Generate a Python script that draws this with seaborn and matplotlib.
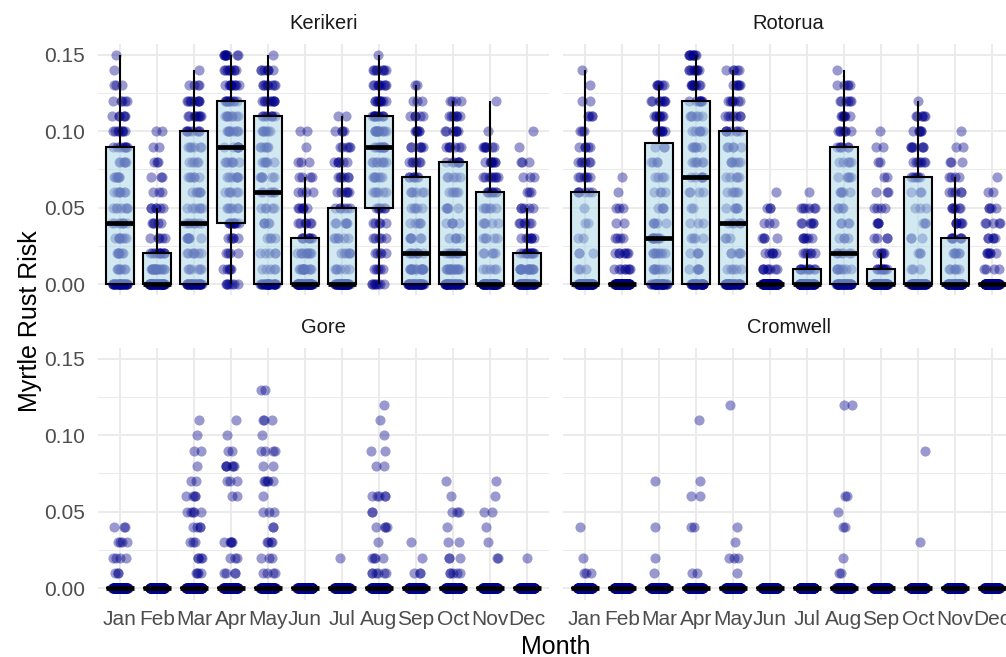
import numpy as np
import pandas as pd
import matplotlib
matplotlib.use("Agg")
import matplotlib.pyplot as plt
from matplotlib.colors import to_rgba
from matplotlib.ticker import MultipleLocator, FormatStrFormatter
import seaborn as sns

# ---------------------------------------------------------------------------
# Data: number of days observed at each risk level, per site and month
# ---------------------------------------------------------------------------
months = ["Jan", "Feb", "Mar", "Apr", "May", "Jun",
          "Jul", "Aug", "Sep", "Oct", "Nov", "Dec"]
sites = ["Kerikeri", "Rotorua", "Gore", "Cromwell"]
risk_levels = [0.00, 0.01, 0.02, 0.03, 0.04, 0.05, 0.06, 0.07,
               0.08, 0.09, 0.10, 0.11, 0.12, 0.13, 0.14, 0.15]

# columns follow risk_levels, rows follow months
kerikeri_counts = [
    [32, 7, 7, 8, 8, 7, 7, 7, 6, 8, 8, 6, 5, 3, 1, 1],
    [62, 18, 12, 5, 5, 6, 3, 3, 3, 2, 2, 0, 0, 0, 0, 0],
    [34, 6, 7, 7, 7, 6, 6, 6, 5, 6, 8, 9, 9, 4, 1, 0],
    [7, 5, 4, 5, 10, 6, 6, 7, 7, 8, 9, 9, 10, 10, 9, 9],
    [32, 5, 5, 4, 5, 5, 6, 6, 6, 6, 7, 8, 10, 8, 7, 1],
    [63, 14, 10, 8, 6, 6, 4, 4, 3, 1, 2, 0, 0, 0, 0, 0],
    [62, 6, 6, 6, 6, 6, 6, 6, 6, 5, 4, 2, 0, 0, 0, 0],
    [8, 5, 5, 5, 5, 6, 6, 7, 8, 12, 14, 12, 10, 9, 8, 1],
    [40, 16, 8, 6, 5, 5, 6, 7, 6, 6, 6, 5, 3, 2, 0, 0],
    [40, 16, 8, 5, 5, 5, 5, 5, 7, 7, 7, 7, 4, 0, 0, 0],
    [62, 5, 5, 5, 5, 6, 8, 8, 8, 7, 1, 0, 1, 0, 0, 0],
    [62, 18, 12, 7, 6, 5, 3, 3, 3, 1, 1, 0, 0, 0, 0, 0],
]

rotorua_counts = [
    [76, 3, 3, 2, 2, 1, 6, 6, 6, 5, 3, 4, 2, 1, 1, 0],
    [95, 8, 7, 4, 2, 3, 1, 1, 0, 0, 0, 0, 0, 0, 0, 0],
    [40, 8, 8, 10, 5, 4, 4, 4, 4, 3, 8, 8, 8, 6, 0, 0],
    [34, 5, 4, 4, 3, 2, 4, 6, 6, 6, 6, 6, 8, 9, 9, 9],
    [45, 5, 5, 3, 5, 5, 5, 5, 6, 5, 7, 7, 7, 6, 5, 0],
    [96, 8, 6, 4, 3, 3, 1, 0, 0, 0, 0, 0, 0, 0, 0, 0],
    [86, 10, 6, 6, 6, 6, 1, 0, 0, 0, 0, 0, 0, 0, 0, 0],
    [48, 8, 6, 4, 4, 4, 5, 5, 5, 6, 7, 7, 6, 5, 1, 0],
    [84, 10, 5, 4, 4, 4, 3, 2, 2, 2, 1, 0, 0, 0, 0, 0],
    [70, 3, 3, 3, 3, 3, 3, 6, 7, 7, 6, 6, 1, 0, 0, 0],
    [75, 6, 6, 7, 6, 6, 5, 4, 3, 2, 1, 0, 0, 0, 0, 0],
    [94, 4, 6, 5, 5, 4, 2, 1, 0, 0, 0, 0, 0, 0, 0, 0],
]

gore_counts = [
    [110, 3, 4, 4, 3, 0, 0, 0, 0, 0, 0, 0, 0, 0, 0, 0],
    [110, 0, 0, 0, 0, 0, 0, 0, 0, 0, 0, 0, 0, 0, 0, 0],
    [110, 4, 4, 3, 4, 5, 4, 2, 1, 2, 1, 1, 0, 0, 0, 0],
    [110, 4, 3, 5, 0, 0, 2, 3, 6, 2, 1, 1, 0, 0, 0, 0],
    [110, 4, 3, 4, 2, 3, 1, 5, 2, 4, 1, 3, 0, 2, 0, 0],
    [110, 0, 0, 0, 0, 0, 0, 0, 0, 0, 0, 0, 0, 0, 0, 0],
    [110, 0, 1, 0, 0, 0, 0, 0, 0, 0, 0, 0, 0, 0, 0, 0],
    [110, 6, 4, 1, 4, 2, 5, 0, 2, 2, 1, 1, 1, 0, 0, 0],
    [110, 3, 1, 1, 0, 0, 0, 0, 0, 0, 0, 0, 0, 0, 0, 0],
    [110, 5, 3, 2, 1, 3, 1, 1, 0, 0, 0, 0, 0, 0, 0, 0],
    [110, 0, 2, 1, 1, 2, 1, 1, 0, 0, 0, 0, 0, 0, 0, 0],
    [110, 0, 1, 0, 0, 0, 0, 0, 0, 0, 0, 0, 0, 0, 0, 0],
]

cromwell_counts = [
    [110, 3, 1, 0, 1, 0, 0, 0, 0, 0, 0, 0, 0, 0, 0, 0],
    [110, 0, 0, 0, 0, 0, 0, 0, 0, 0, 0, 0, 0, 0, 0, 0],
    [110, 1, 1, 0, 1, 0, 0, 1, 0, 0, 0, 0, 0, 0, 0, 0],
    [110, 2, 0, 0, 2, 0, 2, 1, 0, 0, 0, 1, 0, 0, 0, 0],
    [110, 1, 3, 1, 1, 0, 0, 0, 0, 0, 0, 0, 1, 0, 0, 0],
    [110, 0, 0, 0, 0, 0, 0, 0, 0, 0, 0, 0, 0, 0, 0, 0],
    [110, 0, 0, 0, 0, 0, 0, 0, 0, 0, 0, 0, 0, 0, 0, 0],
    [110, 2, 1, 0, 2, 1, 2, 0, 0, 0, 0, 0, 2, 0, 0, 0],
    [110, 0, 0, 0, 0, 0, 0, 0, 0, 0, 0, 0, 0, 0, 0, 0],
    [110, 0, 0, 1, 0, 0, 0, 0, 0, 1, 0, 0, 0, 0, 0, 0],
    [110, 0, 0, 0, 0, 0, 0, 0, 0, 0, 0, 0, 0, 0, 0, 0],
    [110, 0, 0, 0, 0, 0, 0, 0, 0, 0, 0, 0, 0, 0, 0, 0],
]

site_tables = dict(zip(sites, [kerikeri_counts, rotorua_counts,
                               gore_counts, cromwell_counts]))

records = []
for site, table in site_tables.items():
    for month, counts in zip(months, table):
        for level, n in zip(risk_levels, counts):
            records.extend([(site, month, level)] * n)
df = pd.DataFrame(records, columns=["site", "month", "risk"])

# ---------------------------------------------------------------------------
# Styling
# ---------------------------------------------------------------------------
sns.set_theme(style="white")
plt.rcParams["font.family"] = ["Liberation Sans", "DejaVu Sans"]

GRID = "#EBEBEB"
TICK_COLOR = "#4D4D4D"
STRIP_COLOR = "#1A1A1A"
BOX_FILL = to_rgba("lightblue", 0.55)

W, H = 1006, 657
fig = plt.figure(figsize=(W / 100, H / 100), dpi=100)
fig.patch.set_facecolor("white")

panel_w, panel_h = 451.4, 252.0
col_left = [97.8, 562.8]
row_top = [43.5, 347.5]

np.random.seed(7)

for i, site in enumerate(sites):
    r, c = divmod(i, 2)
    ax = fig.add_axes([col_left[c] / W, 1 - (row_top[r] + panel_h) / H,
                       panel_w / W, panel_h / H])
    sub = df[df["site"] == site]

    # jittered daily values underneath the boxes
    sns.stripplot(data=sub, x="month", y="risk", order=months, ax=ax,
                  jitter=0.21, size=7.3, color="darkblue", alpha=0.4,
                  linewidth=0)

    sns.boxplot(data=sub, x="month", y="risk", order=months, ax=ax,
                width=0.75, color="lightblue", linecolor="black",
                linewidth=1.5, showfliers=False, showcaps=False, whis=1.5,
                medianprops={"linewidth": 3.4, "color": "black"})

    for p in ax.patches:
        p.set_facecolor(BOX_FILL)
        p.set_zorder(3)
    for ln in ax.lines:
        ln.set_zorder(4)

    ax.set_xlim(-0.6, 11.6)
    ax.set_ylim(-0.0075, 0.1575)
    ax.yaxis.set_major_locator(MultipleLocator(0.05))
    ax.yaxis.set_minor_locator(MultipleLocator(0.025))
    ax.yaxis.set_major_formatter(FormatStrFormatter("%.2f"))
    ax.set_xticks(range(len(months)))
    ax.set_xticklabels(months)

    ax.set_axisbelow(True)
    ax.grid(True, which="major", axis="both", color=GRID, linewidth=1.45)
    ax.grid(True, which="minor", axis="y", color=GRID, linewidth=0.75)
    for s in ax.spines.values():
        s.set_visible(False)
    ax.set_facecolor("white")

    ax.set_xlabel("")
    ax.set_ylabel("")
    ax.tick_params(axis="both", which="both", length=0,
                   labelsize=15, labelcolor=TICK_COLOR)
    ax.tick_params(axis="x", pad=7.5)
    ax.tick_params(axis="y", pad=9.0)
    ax.tick_params(labelbottom=(r == 1), labelleft=(c == 0))

    ax.set_title(site, fontsize=14.5, color=STRIP_COLOR, pad=10.5)

fig.text(30 / W, 1 - 321.5 / H, "Myrtle Rust Risk", rotation=90,
         ha="center", va="center", fontsize=18, color="black")
fig.text(556 / W, 1 - 647 / H, "Month", ha="center", va="center",
         fontsize=18, color="black")

fig.savefig("out.png", dpi=100)
